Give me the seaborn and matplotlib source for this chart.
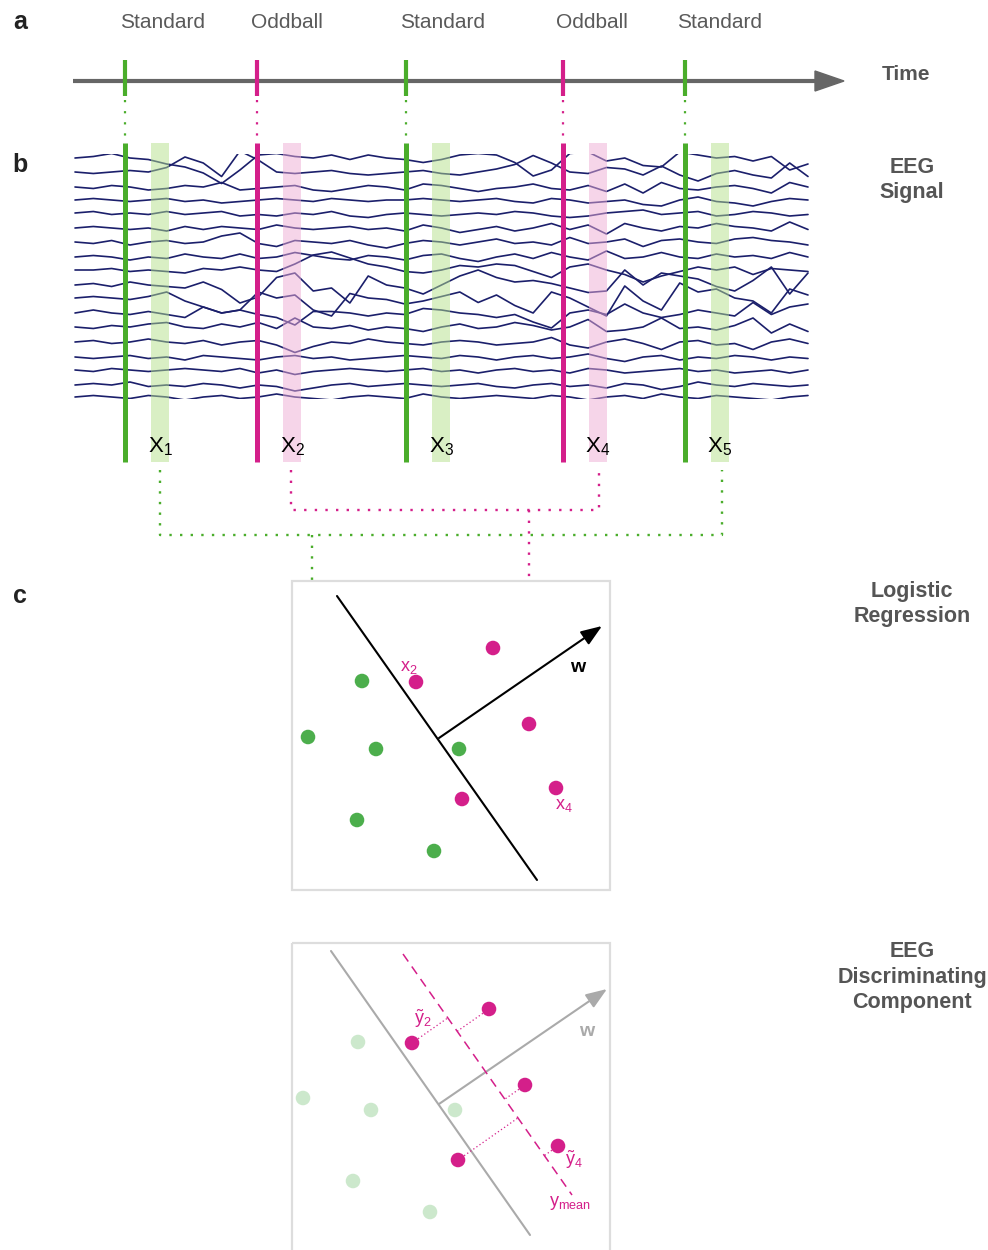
import numpy as np
import pandas as pd
import matplotlib
matplotlib.use('Agg')
import matplotlib.pyplot as plt
from matplotlib.patches import Rectangle, Polygon
import seaborn as sns

GREEN = '#4aad2b'
MAGENTA = '#d41f8a'
NAVY = '#1b1f6b'
TEXT_GRAY = '#555555'

# events (panel a / b)
event_names = ['Standard', 'Oddball', 'Standard', 'Oddball', 'Standard']
event_odd = [False, True, False, True, False]
event_x = [125, 257, 406, 563, 685]
label_x = [163, 287, 443, 592, 720]
window_x = [151, 283, 432, 589, 711]
epoch_labels = [r'$\mathregular{X_1}$', r'$\mathregular{X_2}$', r'$\mathregular{X_3}$',
                r'$\mathregular{X_4}$', r'$\mathregular{X_5}$']

# EEG traces: sample positions, channel baselines, deflections (px)
eeg_x = np.linspace(75, 808, 41)
eeg_base = [158, 172, 187, 200, 213, 228, 242, 257, 270, 285, 298, 313, 327, 342, 357, 370, 385, 397]
eeg_traces = [
    [0, -1, -3, 0, 1, 4, 6, 10, 17, 8, -2, -3, -1, 0, -2, 1, -2, 0, 1, 3, 1, -2, -3, -2, 3, 12, 8, -3, -4, 2, 0, 5, 6, -4, -2, 0, -1, 2, -1, 8, 4],
    [0, 1, 0, -1, 0, -3, -10, -6, 3, -14, -8, 0, 1, 0, -1, 1, 2, 1, 0, -1, 1, 2, 0, -2, -5, -11, -6, 0, 1, -3, -2, 2, -4, 2, 6, 1, -1, 2, 4, -6, 3],
    [0, 1, -1, 0, 2, 1, -1, 0, -3, 2, 1, 0, -1, 2, 3, 1, -1, 0, 2, -2, -1, 1, 3, 1, 0, -2, 1, 2, -1, 3, -2, 4, -3, 1, 2, 0, -1, 1, 4, -3, 0],
    [0, -1, 0, 1, 0, -1, 1, 0, 2, 1, 0, -1, 0, 1, -1, 0, 1, 0, 0, -1, 0, 1, 0, -1, 1, 2, -1, 0, 2, 1, 0, 3, 4, 0, -2, 1, 2, 4, 1, -1, 0],
    [0, -1, 1, 0, 1, -1, 1, 0, -1, 2, 1, 2, 0, 1, -1, 2, 3, 1, 0, 1, 2, 1, 0, 1, -1, 0, 2, 3, 2, 0, -1, -2, 1, 0, -1, 2, 1, -1, 0, 2, 1],
    [0, -1, 0, 1, 0, 2, -1, 1, -1, 0, 1, -2, 0, 1, 0, -1, 1, 0, 2, -2, 0, 3, 1, -1, 2, 0, -3, 1, -2, 4, -3, 0, 2, -1, 0, -3, -1, 0, 2, -4, 1],
    [0, 1, -1, 2, 0, -1, 1, 0, -4, -6, 1, 3, -1, 0, 1, -1, 2, 4, 1, -1, 0, 2, 0, -2, 1, 0, 2, -3, 1, 0, -2, 3, -1, -2, 0, 1, -2, -3, -1, 0, 2],
    [0, -1, 0, 2, 0, 1, -2, 0, 1, -2, 1, 0, -3, -1, 1, 2, -1, 0, 2, -1, -2, 1, 3, 0, -2, 1, -3, 0, 2, -4, 1, 0, -3, 0, 1, -2, 0, -1, 1, -3, 0],
    [0, 0, -1, 1, 0, 1, 2, -1, 0, -2, 0, 1, -4, -10, -12, -8, -4, -2, 1, 2, 0, -3, -2, -4, -3, 1, 5, -2, -4, 0, 3, 8, 4, 1, -2, 0, -2, 3, -1, 0, 1],
    [0, -1, 1, -2, 0, 1, 2, -2, 3, 12, 8, -5, -8, 4, 2, 12, -6, 0, 2, 6, 0, -6, -10, -5, -2, -3, -1, 2, 5, 4, -10, 0, -8, -6, -4, 1, 4, -3, -12, 6, -8],
    [0, -1, 0, 1, -1, -4, 2, 6, 10, 8, -4, 0, -2, 8, 12, -3, 0, 1, 4, 2, -1, -4, 3, -2, 5, 10, -4, 0, 6, 12, -8, 2, 8, -10, -4, -6, 0, 2, 10, -6, -2],
    [0, -2, 0, 1, -1, 1, 3, -4, 0, -2, 1, 3, 8, -1, -1, 0, 2, 0, 1, -3, -2, 0, 1, 3, 1, 6, 10, 0, -2, 1, -6, 0, 3, 1, -2, 0, 2, -7, 1, -4, -6],
    [0, 1, -1, 0, -2, -3, 0, 1, -2, 0, -3, 1, -6, 0, 1, -1, 2, 0, 1, 3, 0, -2, 1, 0, -3, -1, 2, 0, -5, 3, 2, 0, -6, 1, 0, 2, -1, -6, 4, -2, 3],
    [0, -1, 1, 0, -2, 0, 1, -1, 2, 0, -1, 2, 7, 3, 0, 1, -2, 0, 1, 2, 0, -1, 0, 2, 1, 0, -3, 2, 4, 0, -2, 1, 5, 0, -1, 2, 1, 5, 0, -2, 1],
    [0, 1, 0, -1, 1, 0, 2, -1, 0, 1, 2, 0, -1, 1, 0, 2, 1, 0, -1, 0, 1, -1, 0, 2, 0, -1, 1, 0, -2, 1, 3, 0, -1, 2, 0, 1, -1, 0, 2, 0, 1],
    [0, 1, -1, 0, 1, 0, -1, 0, 1, -1, 2, 0, 3, 1, 0, -1, 0, 1, 0, -1, 1, 0, 2, 0, -1, 1, 0, 2, -1, 0, 2, 1, 0, -1, 1, 0, 2, 1, 0, 2, 0],
    [0, -1, 0, -2, 1, 0, 1, -1, 0, 2, 0, 1, 4, 2, 0, -1, 1, 0, -1, 0, 1, 0, -1, 1, 2, 0, -1, 1, 0, 2, -1, 0, 3, 1, -2, 0, 1, -1, 0, 1, 0],
    [0, -1, 0, 1, -1, 0, 2, 0, -1, 1, 0, -2, 0, 1, 2, 0, -1, 0, 1, -2, 0, 1, 0, -1, 0, 1, -1, 0, 2, 0, -1, 1, -2, 0, 1, -1, 0, 1, 2, 0, -1],
]
eeg_gain = 1.5

# logistic regression panel
lr_std_x = [362, 308, 376, 459, 357, 434]
lr_std_y = [681, 737, 749, 749, 820, 851]
lr_odd_x = [493, 416, 529, 556, 462]
lr_odd_y = [648, 682, 724, 788, 799]
lr_boundary = [(337, 596), (537, 880)]
lr_w = [(439, 738), (602, 626)]

# discriminating component panel
dc_std_x = [358, 303, 371, 455, 353, 430]
dc_std_y = [1042, 1098, 1110, 1110, 1181, 1212]
dc_odd_x = [489, 412, 525, 558, 458]
dc_odd_y = [1009, 1043, 1085, 1146, 1160]
dc_boundary = [(331, 951), (530, 1235)]
dc_w = [(439, 1104), (607, 989)]
dc_mean = [(403, 954), (572, 1195)]

sns.set_style('white')
plt.rcParams['font.family'] = ['Liberation Sans', 'DejaVu Sans']

fig = plt.figure(figsize=(9.88, 12.5), dpi=100)
ax = fig.add_axes([0, 0, 1, 1])

# ---- panel a: time line
ax.plot([73, 818], [81, 81], color='#666666', lw=3, solid_capstyle='butt', zorder=2)
ax.add_patch(Polygon([(815, 71), (844, 81), (815, 91)], closed=True, color='#666666', zorder=2))
for x, name, lx, odd in zip(event_x, event_names, label_x, event_odd):
    c = MAGENTA if odd else GREEN
    ax.plot([x, x], [60, 96], color=c, lw=3, solid_capstyle='butt', zorder=3)
    ax.plot([x, x], [100, 140], color=c, lw=1.6, ls=(0, (1, 4)), zorder=3)
    ax.text(lx, 22, name, ha='center', va='center', fontsize=15, color='#5a5a5a')
ax.text(906, 75, 'Time', ha='center', va='center', fontsize=15, fontweight='bold', color=TEXT_GRAY)

# ---- panel b: EEG
rows = []
for i, (base, tr) in enumerate(zip(eeg_base, eeg_traces)):
    for x, v in zip(eeg_x, tr):
        rows.append({'x': x, 'y': base + eeg_gain * v, 'ch': i})
eeg = pd.DataFrame(rows)
n_before = len(ax.lines)
sns.lineplot(data=eeg, x='x', y='y', units='ch', estimator=None, sort=False,
             color=NAVY, lw=1.2, legend=False, ax=ax)
clip = Rectangle((73, 154), 737, 245, transform=ax.transData)
for ln in ax.lines[n_before:]:
    ln.set_clip_path(clip)
    ln.set_zorder(2)
    ln.set_solid_joinstyle('round')

for x, wx, odd, lab in zip(event_x, window_x, event_odd, epoch_labels):
    c = MAGENTA if odd else GREEN
    wc = '#efadd5' if odd else '#b5e18b'
    ax.add_patch(Rectangle((wx, 143), 18, 319, color=wc, alpha=0.5, lw=0, zorder=3))
    ax.plot([x, x], [143, 462], color=c, lw=3.6, solid_capstyle='butt', zorder=4)
    ax.text(wx + 9, 447, lab, ha='center', va='center', fontsize=16, color='black', zorder=5)

dot = dict(lw=1.7, ls=(0, (1, 3.5)), zorder=3)
ax.plot([160, 160, 722, 722], [470, 535, 535, 470], color=GREEN, **dot)
ax.plot([291, 291, 599, 599], [470, 510, 510, 470], color=MAGENTA, **dot)
ax.plot([312, 312], [535, 580], color=GREEN, **dot)
ax.plot([529, 529], [510, 580], color=MAGENTA, **dot)

# ---- panel c: logistic regression
ax.add_patch(Rectangle((292, 581), 318, 309, fill=False, ec='#dddddd', lw=1.6, zorder=1))
(bx0, by0), (bx1, by1) = lr_boundary
ax.plot([bx0, bx1], [by0, by1], color='black', lw=1.5, zorder=3)
head = '-|>,head_length=0.8,head_width=0.3'
ax.annotate('', xy=lr_w[1], xytext=lr_w[0],
            arrowprops=dict(arrowstyle=head, color='black', lw=1.5,
                            mutation_scale=16, shrinkA=0, shrinkB=0))
ax.text(578, 668, 'w', ha='center', va='center', fontsize=14, fontweight='bold', color='black')
sns.scatterplot(x=lr_std_x, y=lr_std_y, color='#4cae4c', s=110, edgecolor='none', ax=ax, zorder=4)
sns.scatterplot(x=lr_odd_x, y=lr_odd_y, color=MAGENTA, s=110, edgecolor='none', ax=ax, zorder=4)
ax.text(409, 667, r'$\mathregular{x_2}$', ha='center', va='center', fontsize=13, color=MAGENTA)
ax.text(564, 805, r'$\mathregular{x_4}$', ha='center', va='center', fontsize=13, color=MAGENTA)

# ---- panel c: discriminating component
ax.add_patch(Rectangle((292, 943), 318, 330, fill=False, ec='#dddddd', lw=1.6, zorder=1))
(bx0, by0), (bx1, by1) = dc_boundary
ax.plot([bx0, bx1], [by0, by1], color='#aaaaaa', lw=1.5, zorder=3)
ax.annotate('', xy=dc_w[1], xytext=dc_w[0],
            arrowprops=dict(arrowstyle=head, color='#aaaaaa', lw=1.5,
                            mutation_scale=16, shrinkA=0, shrinkB=0))
ax.text(587, 1031, 'w', ha='center', va='center', fontsize=14, fontweight='bold', color='#aaaaaa')
p0 = np.array(dc_mean[0], float)
d = np.array(dc_mean[1], float) - p0
ax.plot([dc_mean[0][0], dc_mean[1][0]], [dc_mean[0][1], dc_mean[1][1]],
        color=MAGENTA, lw=1.1, ls=(0, (6, 4)), zorder=3)
for px, py in zip(dc_odd_x, dc_odd_y):
    t = np.dot(np.array([px, py]) - p0, d) / np.dot(d, d)
    fx, fy = p0 + t * d
    ax.plot([px, fx], [py, fy], color=MAGENTA, lw=0.9, ls=(0, (1, 2)), zorder=3)
sns.scatterplot(x=dc_std_x, y=dc_std_y, color='#cce8cc', s=110, edgecolor='none', ax=ax, zorder=4)
sns.scatterplot(x=dc_odd_x, y=dc_odd_y, color=MAGENTA, s=110, edgecolor='none', ax=ax, zorder=4)
ax.text(423, 1019, r'$\mathregular{\tilde{y}_2}$', ha='center', va='center', fontsize=13, color=MAGENTA)
ax.text(574, 1160, r'$\mathregular{\tilde{y}_4}$', ha='center', va='center', fontsize=13, color=MAGENTA)
ax.text(570, 1203, r'$\mathregular{y_{mean}}$', ha='center', va='center', fontsize=13, color=MAGENTA)

# ---- panel letters and side titles
for letter, y in zip(['a', 'b', 'c'], [22, 165, 596]):
    ax.text(20, y, letter, ha='center', va='center', fontsize=18, fontweight='bold', color='#222222')
side_titles = ['EEG\nSignal', 'Logistic\nRegression', 'EEG\nDiscriminating\nComponent']
side_y = [180, 604, 977]
for t, y in zip(side_titles, side_y):
    ax.text(912, y, t, ha='center', va='center', fontsize=15.5, fontweight='bold',
            color=TEXT_GRAY, linespacing=1.3)

ax.set_xlim(0, 988)
ax.set_ylim(1250, 0)
ax.axis('off')
fig.savefig('out.png', dpi=100)
